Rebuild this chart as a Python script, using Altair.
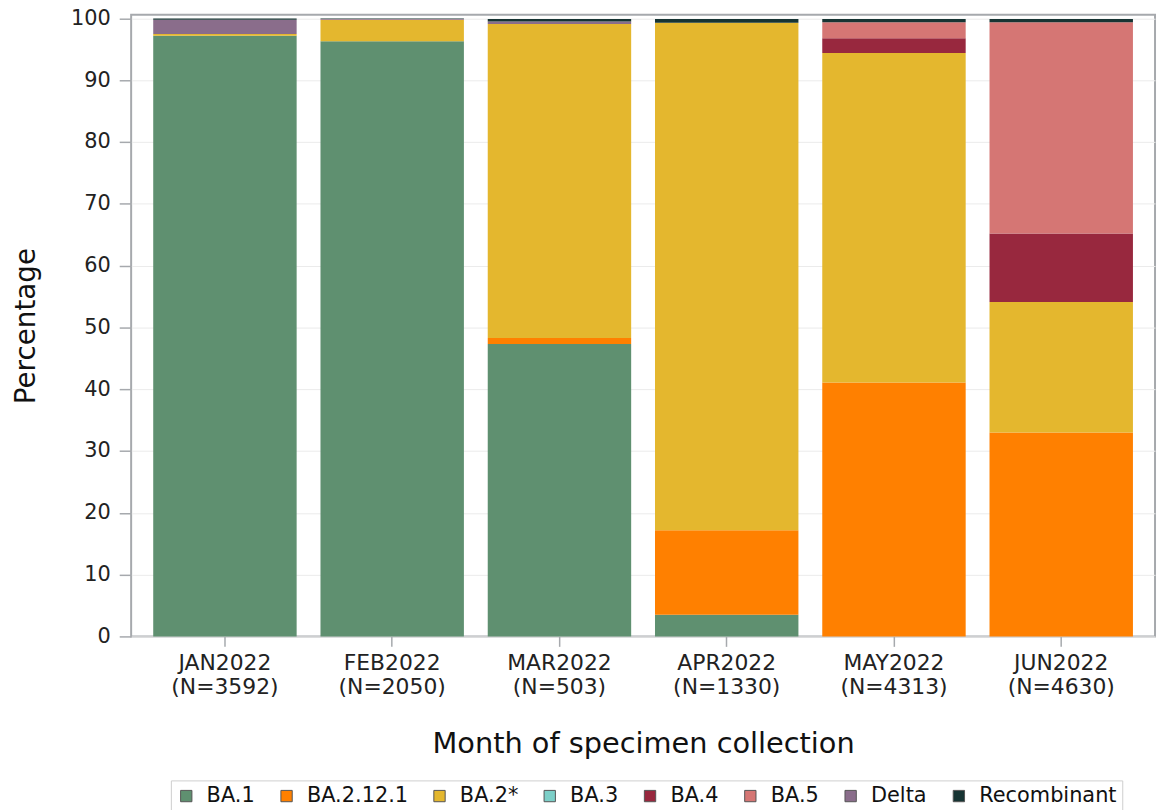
import altair as alt
import pandas as pd

months = ["JAN2022", "FEB2022", "MAR2022", "APR2022", "MAY2022", "JUN2022"]
counts = [3592, 2050, 503, 1330, 4313, 4630]
variants = ["BA.1", "BA.2.12.1", "BA.2*", "BA.3", "BA.4", "BA.5", "Delta", "Recombinant"]
colors = ["#5f9070", "#ff8000", "#e4b72e", "#7ccfc8", "#98283e", "#d57674", "#8a6d8b", "#173433"]

# percentage per variant, one value per month
ba1 = [97.2, 96.3, 47.3, 3.5, 0.0, 0.0]
ba2121 = [0.0, 0.0, 1.0, 13.7, 41.1, 33.0]
ba2 = [0.3, 3.5, 50.8, 82.1, 53.3, 21.1]
ba3 = [0.0, 0.0, 0.0, 0.0, 0.0, 0.0]
ba4 = [0.0, 0.0, 0.0, 0.0, 2.4, 11.1]
ba5 = [0.0, 0.0, 0.0, 0.0, 2.6, 34.2]
delta = [2.3, 0.1, 0.4, 0.0, 0.0, 0.0]
recomb = [0.2, 0.1, 0.4, 0.6, 0.5, 0.5]

series = [ba1, ba2121, ba2, ba3, ba4, ba5, delta, recomb]

labels = [f"{m}\n(N={n})" for m, n in zip(months, counts)]
rows = []
for vi, (v, vals) in enumerate(zip(variants, series)):
    for lab, val in zip(labels, vals):
        rows.append({"month": lab, "variant": v, "pct": val, "ord": vi})
df = pd.DataFrame(rows)

font = "DejaVu Sans"

chart = alt.Chart(df).mark_bar().encode(
    x=alt.X("month:N", sort=labels,
            scale=alt.Scale(paddingInner=0.1425, paddingOuter=0.132),
            axis=alt.Axis(title="Month of specimen collection", labelAngle=0,
                          labelExpr="split(datum.label, '\\n')",
                          labelFontSize=22, labelFont=font, labelColor="#222",
                          labelPadding=6, labelLineHeight=25,
                          titleFontSize=29, titleFont=font, titleFontWeight="normal",
                          titleColor="#111", titlePadding=32,
                          tickSize=10, tickColor="#a6a9ad", tickWidth=1.5,
                          domain=False, grid=False)),
    y=alt.Y("pct:Q", stack="zero",
            scale=alt.Scale(domain=[0, 100.6], nice=False),
            axis=alt.Axis(title="Percentage", values=list(range(0, 101, 10)),
                          labelFontSize=21, labelFont=font, labelColor="#222",
                          labelPadding=9,
                          titleFontSize=28, titleFont=font, titleFontWeight="normal",
                          titleColor="#111", titlePadding=30,
                          tickSize=12, tickColor="#a6a9ad", tickWidth=1.5,
                          domain=False, grid=True, gridColor="#ebebeb")),
    color=alt.Color("variant:N", sort=variants,
                    scale=alt.Scale(domain=variants, range=colors),
                    legend=alt.Legend(title=None, orient="none", legendX=40, legendY=771,
                                      direction="horizontal", columns=8,
                                      symbolType="square", symbolSize=130,
                                      symbolStrokeColor="#555", symbolStrokeWidth=1,
                                      labelFontSize=21, labelFont=font, labelColor="#111",
                                      columnPadding=21, labelOffset=10,
                                      strokeColor="#cfcfcf", padding=5)),
    order=alt.Order("ord:Q", sort="ascending"),
).properties(
    width=1031, height=626,
    autosize=alt.AutoSizeParams(type="none"),
    padding={"left": 124, "top": 4, "right": 3, "bottom": 172},
).configure_view(
    stroke="#a6a9ad", strokeWidth=2
)

chart.save("out.html", embed_options={"renderer": "svg", "actions": False})
